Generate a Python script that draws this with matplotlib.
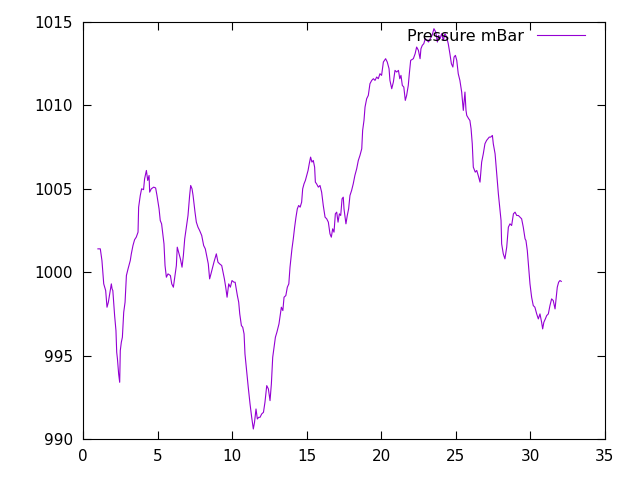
import matplotlib
matplotlib.use("Agg")
import matplotlib.pyplot as plt

# Data (day, pressure in mBar)

day = [1.0, 1.16, 1.27, 1.39, 1.52, 1.61, 1.7, 1.83, 1.9, 1.95, 2.0, 2.12, 2.21, 2.26, 2.31,
       2.39, 2.46, 2.5, 2.57, 2.64, 2.73, 2.82, 2.91, 3.02, 3.17, 3.24, 3.35, 3.46, 3.57,
       3.69, 3.73, 3.84, 3.93, 4.06, 4.13, 4.2, 4.25, 4.34, 4.43, 4.47, 4.58, 4.74, 4.87,
       4.96, 5.1, 5.18, 5.27, 5.43, 5.5, 5.59, 5.7, 5.86, 5.95, 6.06, 6.17, 6.26, 6.32,
       6.41, 6.53, 6.64, 6.73, 6.82, 6.93, 7.04, 7.15, 7.22, 7.31, 7.38, 7.51, 7.6, 7.71,
       7.82, 7.96, 8.09, 8.2, 8.4, 8.49, 8.58, 8.78, 8.94, 9.05, 9.16, 9.3, 9.48, 9.57,
       9.66, 9.77, 9.88, 9.99, 10.12, 10.2, 10.35, 10.44, 10.51, 10.62, 10.71, 10.8, 10.86,
       10.97, 11.08, 11.2, 11.31, 11.42, 11.5, 11.6, 11.69, 11.78, 11.87, 11.98, 12.1,
       12.2, 12.32, 12.43, 12.54, 12.63, 12.72, 12.9, 13.0, 13.14, 13.3, 13.4, 13.48, 13.6,
       13.7, 13.8, 13.88, 13.95, 14.01, 14.1, 14.19, 14.28, 14.37, 14.46, 14.56, 14.66,
       14.73, 14.82, 14.91, 15.0, 15.09, 15.17, 15.26, 15.35, 15.44, 15.53, 15.58, 15.66,
       15.78, 15.89, 16.0, 16.11, 16.23, 16.34, 16.45, 16.56, 16.65, 16.74, 16.83, 16.92,
       17.01, 17.1, 17.19, 17.28, 17.37, 17.45, 17.5, 17.63, 17.72, 17.81, 17.9, 18.01,
       18.12, 18.23, 18.35, 18.46, 18.57, 18.69, 18.75, 18.84, 18.91, 19.02, 19.13, 19.24,
       19.36, 19.47, 19.58, 19.69, 19.8, 19.91, 20.02, 20.14, 20.29, 20.4, 20.52, 20.58,
       20.7, 20.81, 20.92, 21.03, 21.15, 21.24, 21.32, 21.41, 21.51, 21.61, 21.7, 21.81,
       21.88, 21.97, 22.15, 22.27, 22.37, 22.49, 22.6, 22.66, 22.75, 22.85, 22.95, 23.06,
       23.17, 23.28, 23.41, 23.53, 23.65, 23.76, 23.85, 23.94, 24.05, 24.16, 24.27, 24.38,
       24.49, 24.6, 24.7, 24.8, 24.88, 24.97, 25.06, 25.16, 25.27, 25.39, 25.5, 25.61,
       25.68, 25.73, 25.86, 25.94, 26.02, 26.1, 26.17, 26.3, 26.4, 26.5, 26.62, 26.73,
       26.84, 26.95, 27.06, 27.15, 27.24, 27.34, 27.45, 27.51, 27.63, 27.74, 27.85, 27.96,
       28.03, 28.07, 28.18, 28.29, 28.41, 28.52, 28.63, 28.74, 28.86, 28.97, 29.08, 29.19,
       29.3, 29.41, 29.52, 29.64, 29.7, 29.79, 29.86, 29.97, 30.08, 30.19, 30.3, 30.42,
       30.53, 30.64, 30.75, 30.82, 30.9, 31.0, 31.09, 31.2, 31.31, 31.42, 31.53, 31.65,
       31.72, 31.8, 31.89, 31.98, 32.07]

pressure = [1001.4, 1001.4, 1000.7, 999.3, 998.9, 997.9, 998.2, 998.9, 999.3, 999.0, 998.9,
            997.4, 996.5, 995.2, 994.8, 993.9, 993.4, 995.3, 995.8, 996.1, 997.6, 998.2,
            999.8, 1000.2, 1000.7, 1001.1, 1001.6, 1001.95, 1002.1, 1002.4, 1003.9, 1004.6,
            1005.0, 1004.95, 1005.6, 1005.9, 1006.1, 1005.5, 1005.8, 1004.8, 1005.0, 1005.1,
            1005.05, 1004.6, 1003.8, 1003.1, 1002.9, 1001.7, 1000.4, 999.7, 999.9, 999.8,
            999.3, 999.1, 999.8, 1000.4, 1001.5, 1001.2, 1000.8, 1000.3, 1001.0, 1002.0,
            1002.7, 1003.4, 1004.6, 1005.2, 1005.0, 1004.6, 1003.6, 1003.0, 1002.7, 1002.5,
            1002.2, 1001.6, 1001.4, 1000.5, 999.6, 999.9, 1000.6, 1001.1, 1000.6, 1000.5,
            1000.4, 999.6, 999.1, 998.5, 999.3, 999.1, 999.5, 999.4, 999.4, 998.6, 998.2,
            997.5, 996.8, 996.7, 996.3, 995.1, 994.1, 993.1, 992.1, 991.3, 990.6, 991.0,
            991.8, 991.2, 991.3, 991.3, 991.5, 991.6, 992.2, 993.2, 993.0, 992.3, 993.3,
            994.9, 996.1, 996.4, 996.9, 997.9, 997.7, 998.5, 998.6, 999.1, 999.3, 1000.3,
            1000.9, 1001.4, 1002.0, 1002.7, 1003.3, 1003.8, 1004.0, 1003.9, 1004.2, 1005.0,
            1005.3, 1005.5, 1005.8, 1006.1, 1006.5, 1006.9, 1006.6, 1006.7, 1006.3, 1005.4,
            1005.3, 1005.1, 1005.2, 1004.8, 1004.0, 1003.3, 1003.2, 1003.0, 1002.3, 1002.1,
            1002.6, 1002.4, 1003.5, 1003.6, 1003.0, 1003.5, 1003.4, 1004.4, 1004.5, 1003.8,
            1002.9, 1003.4, 1003.8, 1004.6, 1004.9, 1005.3, 1005.8, 1006.2, 1006.7, 1007.0,
            1007.4, 1008.5, 1009.1, 1009.9, 1010.4, 1010.6, 1011.3, 1011.5, 1011.6, 1011.5,
            1011.7, 1011.6, 1011.9, 1011.8, 1012.6, 1012.8, 1012.6, 1012.2, 1011.5, 1011.0,
            1011.4, 1012.1, 1012.0, 1012.1, 1011.6, 1011.8, 1011.2, 1011.1, 1010.3, 1010.6,
            1011.2, 1011.9, 1012.7, 1012.8, 1013.1, 1013.5, 1013.3, 1012.8, 1013.4, 1013.6,
            1013.7, 1014.0, 1013.9, 1013.8, 1014.0, 1014.2, 1014.6, 1014.4, 1013.8, 1014.2,
            1014.0, 1014.3, 1013.9, 1014.3, 1014.1, 1013.7, 1013.1, 1012.5, 1012.3, 1012.9,
            1013.0, 1012.7, 1011.9, 1011.5, 1010.8, 1009.7, 1010.8, 1009.7, 1009.4, 1009.2,
            1009.1, 1008.6, 1007.7, 1006.3, 1006.0, 1006.1, 1005.8, 1005.4, 1006.6, 1007.1,
            1007.7, 1007.9, 1008.0, 1008.1, 1008.1, 1008.2, 1007.7, 1007.1, 1005.9, 1004.7,
            1003.7, 1003.1, 1001.7, 1001.1, 1000.8, 1001.5, 1002.7, 1002.9, 1002.8, 1003.5,
            1003.6, 1003.4, 1003.4, 1003.3, 1003.2, 1002.7, 1002.0, 1001.9, 1001.3, 1000.5,
            999.3, 998.5, 998.0, 997.9, 997.5, 997.2, 997.5, 997.0, 996.6, 997.0, 997.2,
            997.4, 997.5, 998.0, 998.4, 998.3, 997.8, 998.4, 999.1, 999.4, 999.5, 999.45]

x_ticks = [0, 5, 10, 15, 20, 25, 30, 35]
y_ticks = [990, 995, 1000, 1005, 1010, 1015]


# Figure :

fig = plt.figure(figsize=(6.4, 4.8), dpi=100)
ax = fig.add_axes([83 / 640, 1 - 439 / 480, (605 - 83) / 640, (439 - 22) / 480])

ax.plot(day, pressure, color="#9400d3", linewidth=0.8, label="Pressure mBar")

ax.set_xlim(0, 35)
ax.set_ylim(990, 1015)
ax.set_xticks(x_ticks)
ax.set_yticks(y_ticks)

ax.tick_params(direction="in", length=6, width=0.8, top=True, right=True,
               labelsize=11, pad=7)
for spine in ax.spines.values():
    spine.set_linewidth(0.8)

ax.legend(loc="upper right", bbox_to_anchor=(0.9617, 0.983), frameon=False,
          markerfirst=False, fontsize=11.5, handlelength=3.0, borderpad=0,
          borderaxespad=0, handletextpad=0.8)

fig.savefig("out.png", dpi=100)
